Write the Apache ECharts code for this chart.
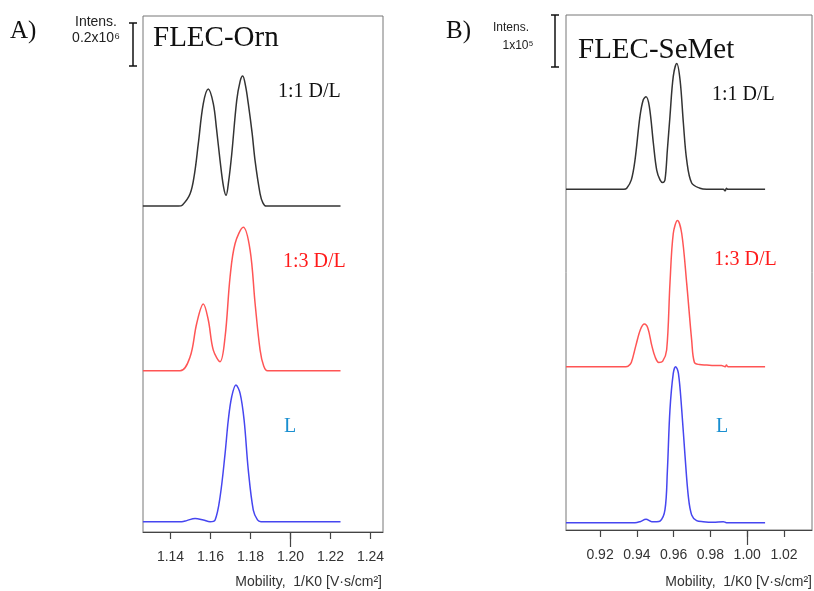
<!DOCTYPE html>
<html><head><meta charset="utf-8">
<script src="https://cdn.jsdelivr.net/npm/echarts@6/dist/echarts.min.js"></script>
<style>html,body{margin:0;padding:0;background:#fff}#c{width:814px;height:591px}</style>
</head><body><div id="c"></div>
<script>
// ---- Panel A: FLEC-Orn (intensity in units of 1e6) ----
const ticksA = [1.14, 1.16, 1.18, 1.20, 1.22, 1.24];
const ticksB = [0.92, 0.94, 0.96, 0.98, 1.00, 1.02];
const seriesNames = ['1:1 D/L', '1:3 D/L', 'L'];

const xA_11 = [1.1262, 1.1440, 1.1460, 1.1498, 1.1520, 1.1539, 1.1564, 1.1589, 1.1614, 1.1630, 1.1648, 1.1665, 1.1678, 1.1690, 1.1706, 1.1731, 1.1748, 1.1761, 1.1775, 1.1789, 1.1808, 1.1823, 1.1848, 1.1862, 1.1878, 1.2250];
const yA_11 = [0, 0, 0.005, 0.057, 0.15, 0.29, 0.476, 0.544, 0.476, 0.36, 0.21, 0.09, 0.05, 0.11, 0.24, 0.49, 0.58, 0.605, 0.56, 0.476, 0.34, 0.21, 0.057, 0.015, 0, 0];

const xA_13 = [1.1262, 1.1448, 1.1498, 1.1531, 1.1564, 1.1589, 1.1614, 1.1648, 1.1673, 1.1698, 1.1723, 1.1764, 1.1798, 1.1823, 1.1848, 1.1866, 1.1885, 1.2250];
const yA_13 = [0, 0, 0.065, 0.22, 0.31, 0.236, 0.096, 0.042, 0.158, 0.437, 0.592, 0.667, 0.561, 0.313, 0.096, 0.022, 0, 0];

const xA_L = [1.1262, 1.1456, 1.1481, 1.1523, 1.1564, 1.1598, 1.1623, 1.1648, 1.1673, 1.1689, 1.1706, 1.1727, 1.1748, 1.1768, 1.1789, 1.1814, 1.1835, 1.1852, 1.2250];
const yA_L = [0, 0, 0.005, 0.015, 0.008, 0, 0.008, 0.116, 0.318, 0.473, 0.581, 0.636, 0.597, 0.473, 0.24, 0.054, 0.008, 0, 0];

const baseA = [1.516, 0.750, 0.048];

// ---- Panel B: FLEC-SeMet (intensity in units of 1e5) ----
const xB_11 = [0.9015, 0.9330, 0.9345, 0.9370, 0.9390, 0.9417, 0.9435, 0.9450, 0.9468, 0.9490, 0.9508, 0.9526, 0.9541, 0.9553, 0.9566, 0.9580, 0.9598, 0.9617, 0.9635, 0.9653, 0.9671, 0.9698, 0.9743, 0.9779, 0.9870, 0.9880, 0.9887, 0.9895, 1.0097];
const yB_11 = [0, 0, 0.02, 0.18, 0.56, 1.40, 1.72, 1.78, 1.59, 0.88, 0.37, 0.18, 0.13, 0.18, 0.76, 1.40, 2.17, 2.42, 2.10, 1.27, 0.56, 0.12, 0.02, 0, 0, -0.03, 0.02, 0, 0];

const xB_13 = [0.9015, 0.9340, 0.9353, 0.9370, 0.9395, 0.9420, 0.9441, 0.9460, 0.9481, 0.9500, 0.9519, 0.9540, 0.9562, 0.9580, 0.9598, 0.9621, 0.9644, 0.9671, 0.9698, 0.9713, 0.9740, 0.9780, 0.9820, 0.9860, 0.9880, 0.9887, 0.9895, 1.0097];
const yB_13 = [0, 0, 0.01, 0.08, 0.41, 0.72, 0.82, 0.74, 0.41, 0.18, 0.08, 0.10, 0.32, 1.60, 2.56, 2.81, 2.56, 1.60, 0.51, 0.08, 0.04, 0.03, 0.02, 0.02, 0, 0.03, 0, 0];

const xB_L = [0.9015, 0.9390, 0.9417, 0.9450, 0.9481, 0.9508, 0.9526, 0.9553, 0.9566, 0.9580, 0.9598, 0.9611, 0.9626, 0.9644, 0.9662, 0.9680, 0.9698, 0.9725, 0.9761, 0.9815, 0.9870, 0.9887, 1.0097];
const yB_L = [0, 0, 0.02, 0.065, 0.02, 0.02, 0.03, 0.25, 1.00, 2.17, 2.87, 3.0, 2.87, 2.17, 1.28, 0.50, 0.15, 0.04, 0.02, 0.01, 0.02, 0, 0];

const baseB = [6.55, 3.14, 0.14];

const lineColors = ['#333333', '#ff5555', '#4646f0'];
const textColors = ['#111111', '#ff1a1a', '#1a8fd0'];

function pts(xs, ys, base) { return xs.map((x, i) => [x, ys[i] + base]); }

const chart = echarts.init(document.getElementById('c'), null, {renderer: 'canvas'});

function xAxisMain(grid, min, max, ticks) {
  return {
    type: 'value', gridIndex: grid, min: min, max: max, position: 'bottom',
    axisLine: {show: true, onZero: false, lineStyle: {color: '#444', width: 1}},
    axisTick: {show: true, inside: false, length: 7, customValues: ticks, lineStyle: {color: '#444', width: 1.2}},
    axisLabel: {show: true, customValues: ticks, margin: 18, formatter: v => v.toFixed(2),
      fontFamily: 'Liberation Sans, Arial, sans-serif', fontSize: 14, color: '#333'},
    splitLine: {show: false}
  };
}
function xAxisLong(grid, min, max, val) {
  return {
    type: 'value', gridIndex: grid, min: min, max: max, position: 'bottom',
    axisLine: {show: false, onZero: false},
    axisTick: {show: true, inside: false, length: 15, customValues: [val], lineStyle: {color: '#444', width: 1.2}},
    axisLabel: {show: false}, splitLine: {show: false}
  };
}

const series = [];
const xsA = [xA_11, xA_13, xA_L], ysA = [yA_11, yA_13, yA_L];
const xsB = [xB_11, xB_13, xB_L], ysB = [yB_11, yB_13, yB_L];
for (let i = 0; i < 3; i++) {
  series.push({type: 'line', name: 'A ' + seriesNames[i], xAxisIndex: 0, yAxisIndex: 0,
    data: pts(xsA[i], ysA[i], baseA[i]), showSymbol: false, smooth: 0.35,
    lineStyle: {color: lineColors[i], width: 1.5}, silent: true, animation: false});
  series.push({type: 'line', name: 'B ' + seriesNames[i], xAxisIndex: 2, yAxisIndex: 1,
    data: pts(xsB[i], ysB[i], baseB[i]), showSymbol: false, smooth: 0.35,
    lineStyle: {color: lineColors[i], width: 1.5}, silent: true, animation: false});
}

const serif = 'Liberation Serif, Times New Roman, serif';
const sans = 'Liberation Sans, Arial, sans-serif';
function txt(x, y, s, size, color, font, align) {
  return {type: 'text', x: x, y: y, silent: true,
    style: {text: s, fontSize: size, fill: color, fontFamily: font, align: align || 'left', verticalAlign: 'middle'}};
}
function bar(x, y1, y2) {
  return [
    {type: 'line', silent: true, shape: {x1: x, y1: y1, x2: x, y2: y2}, style: {stroke: '#111', lineWidth: 1.5}},
    {type: 'line', silent: true, shape: {x1: x - 4, y1: y1, x2: x + 4, y2: y1}, style: {stroke: '#111', lineWidth: 1.5}},
    {type: 'line', silent: true, shape: {x1: x - 4, y1: y2, x2: x + 4, y2: y2}, style: {stroke: '#111', lineWidth: 1.5}}
  ];
}

const option = {
  animation: false,
  backgroundColor: '#fff',
  grid: [
    {left: 143, top: 16, width: 240, height: 516, show: true, borderColor: '#777', borderWidth: 1},
    {left: 566, top: 15, width: 246, height: 515, show: true, borderColor: '#777', borderWidth: 1}
  ],
  xAxis: [
    xAxisMain(0, 1.12625, 1.24625, ticksA),
    xAxisLong(0, 1.12625, 1.24625, 1.20),
    xAxisMain(1, 0.9015, 1.0352, ticksB),
    xAxisLong(1, 0.9015, 1.0352, 1.00)
  ],
  yAxis: [
    {type: 'value', gridIndex: 0, min: 0, max: 2.4, show: false, splitLine: {show: false}},
    {type: 'value', gridIndex: 1, min: 0, max: 9.9, show: false, splitLine: {show: false}}
  ],
  series: series,
  graphic: [
    txt(10, 31, 'A)', 25, '#111', serif),
    txt(96, 22, 'Intens.', 14, '#222', sans, 'center'),
    txt(96, 38, '0.2x10\u2076', 14, '#222', sans, 'center'),
    ...bar(133, 23, 66),
    txt(153, 38, 'FLEC-Orn', 29, '#111', serif),
    txt(278, 92, seriesNames[0], 20, textColors[0], serif),
    txt(283, 262, seriesNames[1], 20, textColors[1], serif),
    txt(284, 427, seriesNames[2], 20, textColors[2], serif),
    txt(382, 582, 'Mobility,  1/K0 [V\u00b7s/cm\u00b2]', 14, '#333', sans, 'right'),

    txt(446, 31, 'B)', 25, '#111', serif),
    txt(511, 28, 'Intens.', 12, '#222', sans, 'center'),
    txt(518, 46, '1x10\u2075', 12, '#222', sans, 'center'),
    ...bar(555, 15, 67),
    txt(578, 50, 'FLEC-SeMet', 29, '#111', serif),
    txt(712, 95, seriesNames[0], 20, textColors[0], serif),
    txt(714, 260, seriesNames[1], 20, textColors[1], serif),
    txt(716, 427, seriesNames[2], 20, textColors[2], serif),
    txt(812, 582, 'Mobility,  1/K0 [V\u00b7s/cm\u00b2]', 14, '#333', sans, 'right')
  ]
};
chart.setOption(option);
</script>
</body></html>
